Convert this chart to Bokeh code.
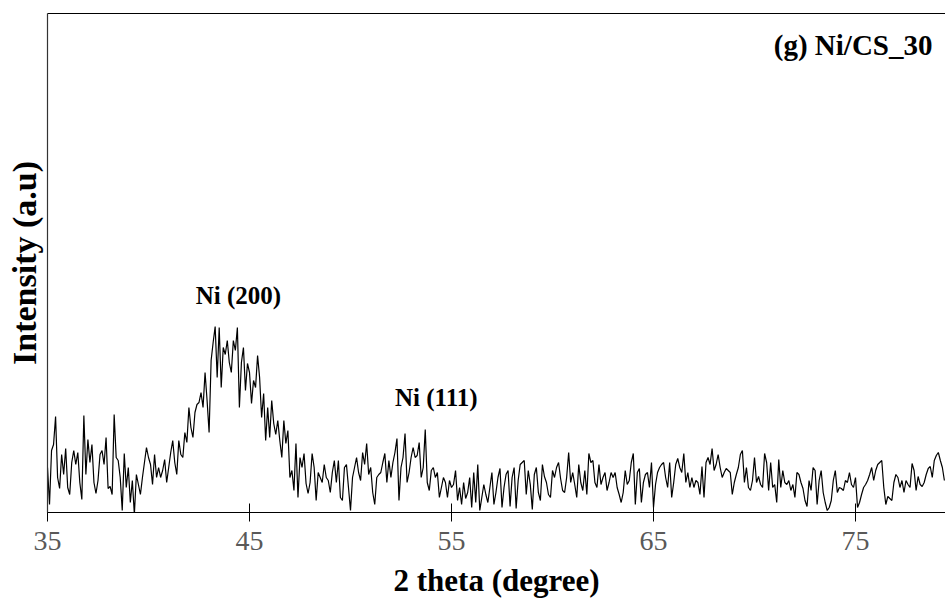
from bokeh.plotting import figure
from bokeh.models import Range1d, LinearAxis, FixedTicker, Label
from bokeh.embed import file_html
from bokeh.resources import INLINE

# ---- data (2 theta, step 0.1 deg, intensity in arbitrary units) ----
start_2theta = 35.0
step_2theta = 0.1
intensity = [
    # 35.0 - 35.9
    45, 8, 62, 68, 96, 35, 24, 58, 38, 64,
    # 36.0 - 36.9
    25, 18, 50, 62, 48, 60, 30, 13, 97, 38,
    # 37.0 - 37.9
    73, 50, 68, 30, 19, 32, 58, 62, 48, 75,
    # 38.0 - 38.9
    24, 26, 18, 98, 55, 52, 35, 2, 59, 25,
    # 39.0 - 39.9
    45, 10, 32, -2, 38, 28, 18, 35, 50, 65,
    # 40.0 - 40.9
    55, 48, 28, 58, 35, 45, 35, 42, 53, 30,
    # 41.0 - 41.9
    45, 60, 72, 50, 38, 72, 58, 55, 80, 70,
    # 42.0 - 42.9
    105, 85, 75, 100, 108, 110, 120, 105, 140, 112,
    # 43.0 - 43.9
    80, 152, 170, 186, 135, 185, 125, 165, 158, 172,
    # 44.0 - 44.9
    150, 140, 172, 162, 185, 105, 150, 165, 122, 149,
    # 45.0 - 45.9
    140, 109, 132, 125, 157, 135, 95, 119, 72, 105,
    # 46.0 - 46.9
    75, 112, 89, 78, 92, 72, 55, 92, 69, 82,
    # 47.0 - 47.9
    35, 42, 22, 69, 15, 55, 45, 59, 29, 19,
    # 48.0 - 48.9
    30, 59, 45, 12, 40, 35, 30, 48, 35, 32,
    # 49.0 - 49.9
    20, 40, 52, 30, 52, 15, 12, 45, 48, 25,
    # 50.0 - 50.9
    2, 35, 45, 55, 40, 32, 60, 48, 69, 38,
    # 51.0 - 51.9
    45, 20, 8, 35, 38, 40, 50, 59, 30, 52,
    # 52.0 - 52.9
    35, 50, 60, 74, 12, 45, 55, 79, 30, 40,
    # 53.0 - 53.9
    55, 65, 55, 57, 70, 35, 45, 83, 30, 22,
    # 54.0 - 54.9
    42, 45, 35, 40, 15, 25, 35, 30, 15, 32,
    # 55.0 - 55.9
    25, 28, 42, 12, 25, 8, 30, 14, 20, 35,
    # 56.0 - 56.9
    5, 40, 10, 48, 2, 15, 28, 18, 10, 25,
    # 57.0 - 57.9
    40, 8, 20, 35, 44, 5, 25, 38, 42, 6,
    # 58.0 - 58.9
    35, 45, 4, 32, 48, 50, 52, 18, 42, 28,
    # 59.0 - 59.9
    3, 38, 45, 20, 12, 48, 36, 30, 18, 15,
    # 60.0 - 60.9
    42, 35, 45, 50, 34, 22, 20, 35, 60, 30,
    # 61.0 - 61.9
    40, 28, 15, 48, 30, 22, 42, 18, 59, 50,
    # 62.0 - 62.9
    52, 30, 25, 48, 28, 35, 40, 22, 30, 40,
    # 63.0 - 63.9
    35, 40, 25, 18, 10, 20, 42, 28, 32, 50,
    # 64.0 - 64.9
    59, 8, 40, 44, 10, 30, 38, 40, 25, 50,
    # 65.0 - 65.9
    5, 28, 40, 45, 48, 50, 35, 25, 50, 15,
    # 66.0 - 66.9
    30, 48, 54, 45, 40, 59, 30, 40, 25, 35,
    # 67.0 - 67.9
    25, 32, 30, 18, 46, 15, 50, 55, 48, 64,
    # 68.0 - 68.9
    42, 48, 58, 45, 35, 40, 44, 42, 40, 18,
    # 69.0 - 69.9
    30, 38, 45, 58, 62, 30, 45, 25, 22, 32,
    # 70.0 - 70.9
    55, 30, 36, 28, 25, 59, 50, 22, 50, 25,
    # 71.0 - 71.9
    28, 10, 53, 25, 42, 30, 28, 32, 22, 28,
    # 72.0 - 72.9
    15, 40, 38, 30, 24, 12, 6, 32, 22, 45,
    # 73.0 - 73.9
    42, 8, 32, 42, 20, 10, 2, 5, 12, 32,
    # 74.0 - 74.9
    42, 20, 25, 24, 22, 32, 30, 40, 28, 25,
    # 75.0 - 75.9
    35, 5, 10, 18, 25, 28, 32, 38, 45, 32,
    # 76.0 - 76.9
    42, 48, 50, 52, 25, 8, 16, 14, 12, 30,
    # 77.0 - 77.9
    38, 35, 25, 32, 20, 32, 28, 25, 49, 42,
    # 78.0 - 78.9
    22, 36, 28, 26, 30, 38, 44, 46, 35, 52,
    # 79.0 - 79.4
    57, 60, 52, 45, 32,
]
two_theta = [round(start_2theta + i * step_2theta, 2) for i in range(len(intensity))]

x_ticks = [35, 45, 55, 65, 75]
title_text = "(g) Ni/CS_30"
x_label = "2 theta (degree)"
y_label = "Intensity (a.u)"
peak_labels = ["Ni (200)", "Ni (111)"]
peak_label_x = [44.45, 54.25]
peak_label_y = [217, 115]

FONT = "Liberation Serif"

p = figure(width=945, height=608, output_backend="svg", toolbar_location=None,
           x_range=Range1d(35, 79.455), y_range=Range1d(0, 499),
           min_border_left=47, min_border_right=0, min_border_top=13,
           min_border_bottom=96, x_axis_type=None, y_axis_type=None)
p.outline_line_color = None
p.grid.visible = False
p.background_fill_color = "white"
p.border_fill_color = "white"

p.line(two_theta, intensity, line_color="black", line_width=1.2)

# bottom axis
xa = LinearAxis(ticker=FixedTicker(ticks=x_ticks), axis_label=x_label)
xa.axis_line_color = "black"
xa.axis_line_width = 1.2
xa.major_tick_in = 9
xa.major_tick_out = 9
xa.major_tick_line_color = "black"
xa.minor_tick_line_color = None
xa.major_label_text_font = FONT
xa.major_label_text_font_size = "28px"
xa.major_label_text_color = "#595959"
xa.major_label_standoff = 10
xa.axis_label_text_font = FONT
xa.axis_label_text_font_style = "bold"
xa.axis_label_text_font_size = "31px"
xa.axis_label_text_color = "black"
xa.axis_label_standoff = 10
p.add_layout(xa, "below")

# left axis (no ticks)
ya = LinearAxis(ticker=FixedTicker(ticks=[]), axis_label=y_label)
ya.axis_line_color = "#333333"
ya.axis_line_width = 1.2
ya.major_tick_line_color = None
ya.minor_tick_line_color = None
ya.major_label_text_font_size = "0px"
ya.axis_label_text_font = FONT
ya.axis_label_text_font_style = "bold"
ya.axis_label_text_font_size = "34px"
ya.axis_label_text_color = "black"
ya.axis_label_standoff = 5
p.add_layout(ya, "left")

# top border line
ta = LinearAxis(ticker=FixedTicker(ticks=[]))
ta.axis_line_color = "black"
ta.axis_line_width = 1.2
ta.major_tick_line_color = None
ta.minor_tick_line_color = None
ta.major_label_text_font_size = "0px"
p.add_layout(ta, "above")

# panel title (inside the plot, upper right)
p.add_layout(Label(x=78.81, y=468, text=title_text, text_font=FONT,
                   text_font_style="bold", text_font_size="29px",
                   text_align="right", text_baseline="middle", text_color="black"))

for t, lx, ly in zip(peak_labels, peak_label_x, peak_label_y):
    p.add_layout(Label(x=lx, y=ly, text=t, text_font=FONT, text_font_style="bold",
                       text_font_size="25px", text_align="center", text_baseline="middle",
                       text_color="black"))

open("out.html", "w").write(file_html(p, INLINE))
